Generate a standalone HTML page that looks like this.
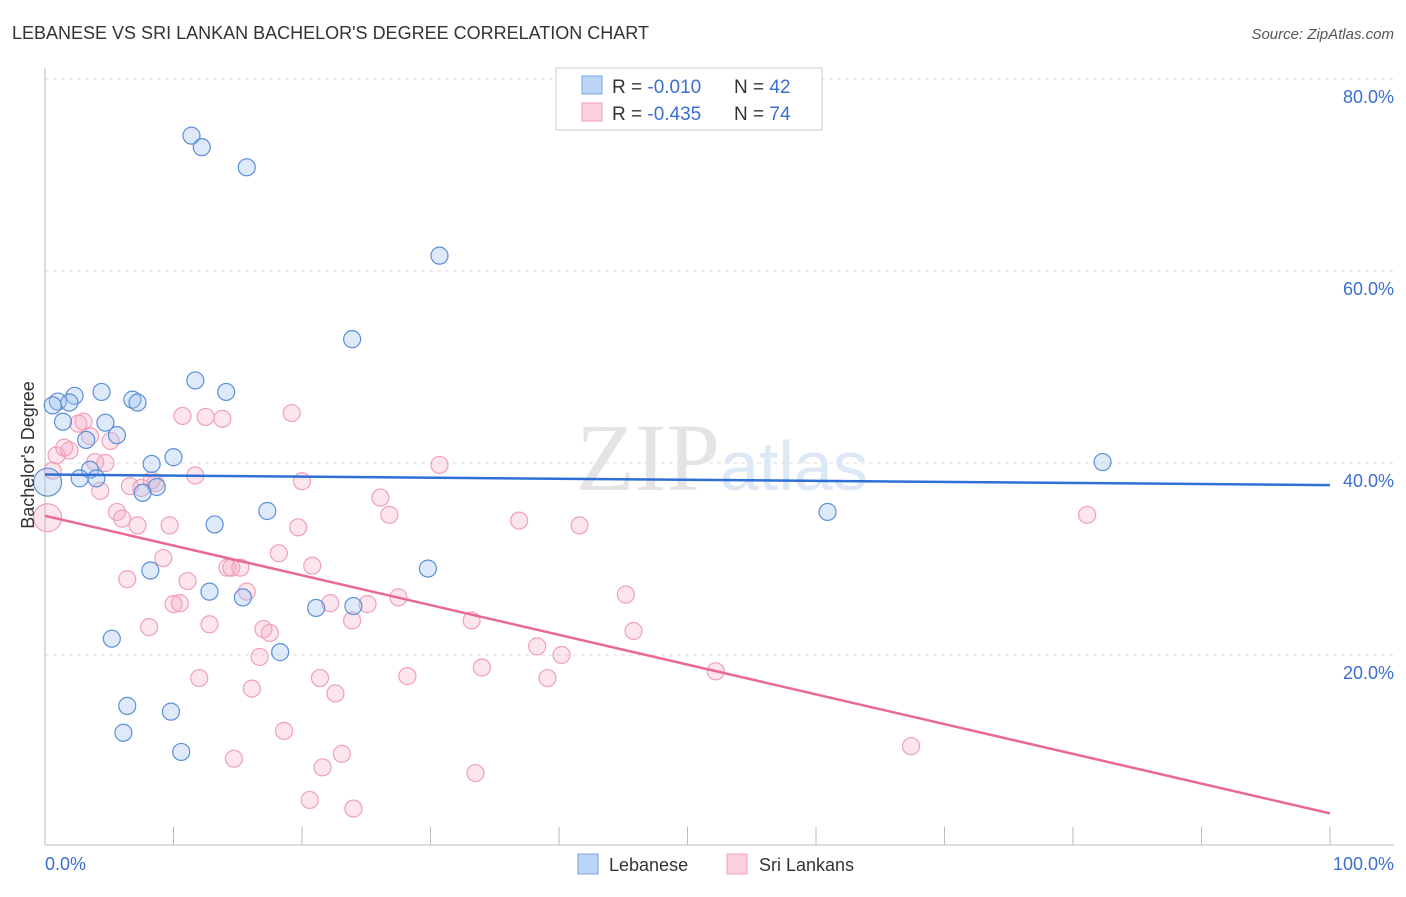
<!DOCTYPE html>
<html><head><meta charset="utf-8"><style>
body{margin:0;background:#fff;font-family:"Liberation Sans",sans-serif;}
</style></head><body>
<svg width="1406" height="892" xmlns="http://www.w3.org/2000/svg" font-family="Liberation Sans, sans-serif">
<text x="12" y="39" font-size="18" fill="#333">LEBANESE VS SRI LANKAN BACHELOR'S DEGREE CORRELATION CHART</text>
<text x="1394" y="39" font-size="15" fill="#555" font-style="italic" text-anchor="end">Source: ZipAtlas.com</text>
<g id="grid"></g>
<text x="720" y="490" font-size="96" fill="#e4e4e4" font-family="Liberation Serif, serif" text-anchor="end">ZIP</text>
<text x="720" y="490" font-size="70" fill="#dce8f5">atlas</text>
<g id="pts"></g>
<g id="lines"></g>
<text x="34" y="455" font-size="18" fill="#333" transform="rotate(-90 34 455)" text-anchor="middle">Bachelor's Degree</text>
<text x="45" y="870" font-size="18" fill="#3b6fd0">0.0%</text>
<text x="1394" y="870" font-size="18" fill="#3b6fd0" text-anchor="end">100.0%</text>
<g>
<rect x="556" y="68" width="266" height="62" fill="#fff" stroke="#ccc"/>
<rect x="582" y="76" width="20" height="18" fill="#bcd4f5" stroke="#7aa6e8"/>
<rect x="582" y="103" width="20" height="18" fill="#fcd0dc" stroke="#f0a0b8"/>
<text x="612" y="93" font-size="19" fill="#333">R = <tspan fill="#3b6fd0">-0.010</tspan><tspan x="734">N = </tspan><tspan fill="#3b6fd0">42</tspan></text>
<text x="612" y="120" font-size="19" fill="#333">R = <tspan fill="#3b6fd0">-0.435</tspan><tspan x="734">N = </tspan><tspan fill="#3b6fd0">74</tspan></text>
</g>
<g>
<rect x="578" y="854" width="20" height="20" fill="#bcd4f5" stroke="#7aa6e8"/>
<text x="609" y="871" font-size="18" fill="#333">Lebanese</text>
<rect x="727" y="854" width="20" height="20" fill="#fcd0dc" stroke="#f0a0b8"/>
<text x="759" y="871" font-size="18" fill="#333">Sri Lankans</text>
</g>
</svg>
<script>
const yTicks=[20,40,60,80];
const xTicks=[0,10,20,30,40,50,60,70,80,90,100];
const blueX=[11.4,12.2,15.7,30.7,23.9,11.7,14.1,4.4,2.3,6.8,7.2,1.0,0.6,1.9,1.4,4.7,5.6,3.2,10.0,8.3,3.5,2.7,4.0,8.7,7.6,0.2,13.2,17.3,60.9,82.3,8.2,29.8,12.8,15.4,21.1,24.0,5.2,18.3,6.4,9.8,6.1,10.6];
const blueY=[74.1,72.9,70.8,61.6,52.9,48.6,47.4,47.4,47.0,46.6,46.3,46.4,46.0,46.3,44.3,44.2,42.9,42.4,40.6,39.9,39.3,38.4,38.4,37.5,36.9,38.0,33.6,35.0,34.9,40.1,28.8,29.0,26.6,26.0,24.9,25.1,21.7,20.3,14.7,14.1,11.9,9.9];
const pinkX=[0.2,0.6,0.9,1.5,1.9,2.6,3.0,3.5,3.9,4.7,5.1,4.3,5.6,6.0,7.2,6.6,7.5,8.6,8.3,9.2,9.7,10.7,12.5,13.8,11.7,19.2,20.0,30.7,6.4,11.1,10.0,10.5,8.1,12.8,14.2,15.2,15.7,18.2,19.7,20.8,26.8,26.1,22.2,25.1,23.9,27.5,17.0,17.5,16.7,12.0,16.1,21.4,22.6,28.2,33.2,34.0,38.3,40.2,39.1,36.9,41.6,45.2,45.8,52.2,81.1,67.4,18.6,14.7,23.1,21.6,20.6,24.0,33.5,14.5];
const pinkY=[34.3,39.2,40.8,41.6,41.3,44.1,44.3,42.8,40.1,40.0,42.3,37.1,34.9,34.2,33.5,37.6,37.4,37.9,38.2,30.1,33.5,44.9,44.8,44.6,38.7,45.2,38.1,39.8,27.9,27.7,25.3,25.4,22.9,23.2,29.1,29.1,26.6,30.6,33.3,29.3,34.6,36.4,25.4,25.3,23.6,26.0,22.7,22.3,19.8,17.6,16.5,17.6,16.0,17.8,23.6,18.7,20.9,20.0,17.6,34.0,33.5,26.3,22.5,18.3,34.6,10.5,12.1,9.2,9.7,8.3,4.9,4.0,7.7,29.1];
const blueTrend=[38.8,37.7];
const pinkTrend=[34.5,3.5];
const X=v=>45+v*12.85, Y=v=>847-v*9.6;
const NS="http://www.w3.org/2000/svg";
function mk(t,a,p){const e=document.createElementNS(NS,t);for(const k in a)e.setAttribute(k,a[k]);p.appendChild(e);return e;}
const grid=document.getElementById('grid');
yTicks.forEach(t=>{
 const l=mk('line',{x1:45,x2:1394,y1:Y(t),y2:Y(t),stroke:'#ddd','stroke-dasharray':'4,4'},grid);
 
 
 const tx=mk('text',{x:1394,y:Y(t)+24,'font-size':18,fill:'#3b6fd0','text-anchor':'end'},grid);
 tx.textContent=t.toFixed(1)+'%';
 
 
});
const ax=mk('line',{x1:45,x2:1394,y1:845,y2:845,stroke:'#bbb'},grid);


const ay=mk('line',{x1:45,x2:45,y1:68,y2:845,stroke:'#bbb'},grid);


xTicks.forEach(t=>{
 const l=mk('line',{x1:X(t),x2:X(t),y1:827,y2:845,stroke:'#bbb'},grid);
 
 
});
const pts=document.getElementById('pts');
pinkX.forEach((x,i)=>{
 const c=mk('circle',{cx:X(x),cy:Y(pinkY[i]),r:i==0?14:8.5,fill:'rgba(248,170,195,0.3)',stroke:'#f0a0b8','stroke-width':1.2},pts);
 
 
});
blueX.forEach((x,i)=>{
 const c=mk('circle',{cx:X(x),cy:Y(blueY[i]),r:i==25?14:8.5,fill:'rgba(160,195,240,0.35)',stroke:'#5b8fd8','stroke-width':1.2},pts);
 
 
});
const ln=document.getElementById('lines');
const b=mk('line',{x1:X(0),x2:X(100),y1:Y(blueTrend[0]),y2:Y(blueTrend[1]),stroke:'#2e6fd6','stroke-width':2.5},ln);


const p=mk('line',{x1:X(0),x2:X(100),y1:Y(pinkTrend[0]),y2:Y(pinkTrend[1]),stroke:'#e8689a','stroke-width':2.5},ln);


</script>
</body></html>
